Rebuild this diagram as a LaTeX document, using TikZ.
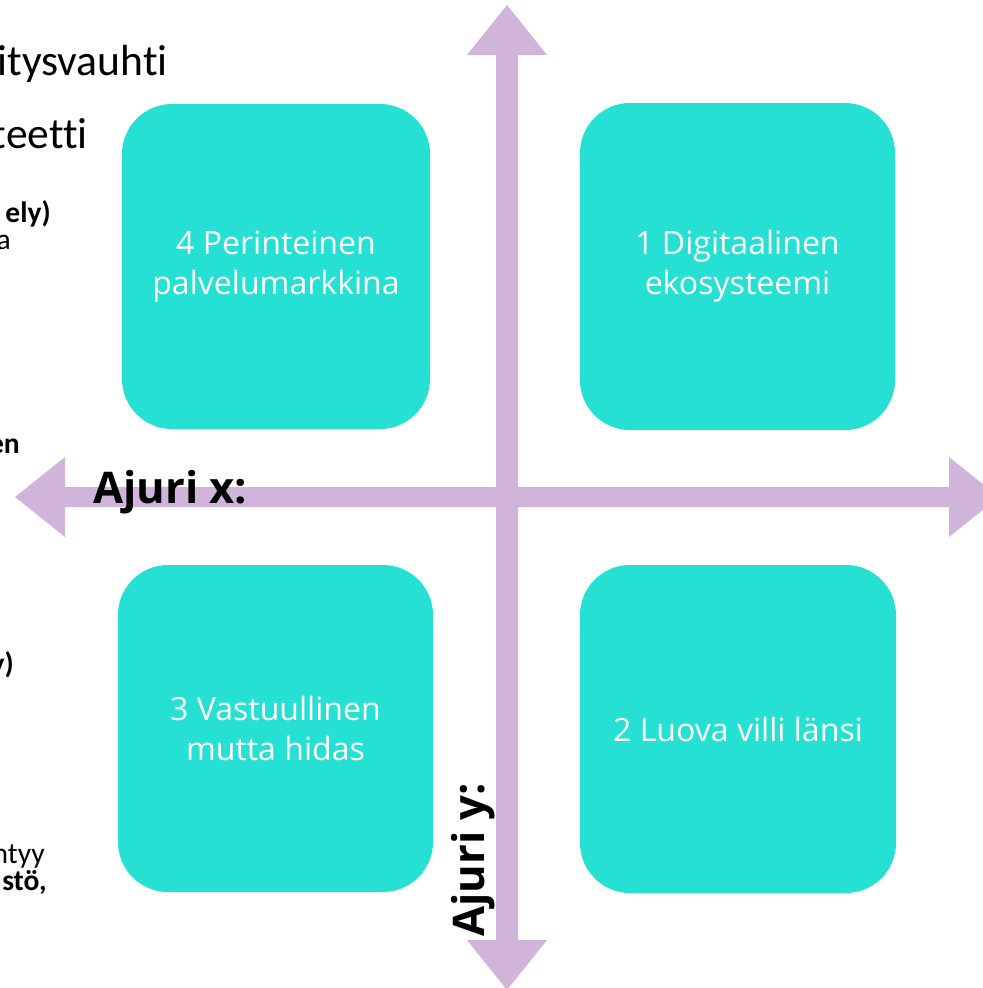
\documentclass[tikz,border=0pt]{standalone}
\usepackage{fontspec}
\setmainfont{Open Sans}
\newfontfamily\calfont[Ligatures=NoCommon]{Carlito}
\begin{document}
\begin{tikzpicture}[x=0.025cm, y=-0.025cm,
    quad/.style={fill={rgb,255:red,38;green,224;blue,212}, rounded corners=1.25cm},
    quadtext/.style={text=white, align=center, font=\fontsize{22.8}{28.5}\selectfont},
    axis/.style={fill={rgb,255:red,209;green,180;blue,218}},
    ajuri/.style={font=\fontsize{31}{36}\selectfont\bfseries, inner sep=0pt},
    frag/.style={font=\calfont\fontsize{21}{24}\selectfont, anchor=base east, inner sep=0pt},
    fragbig/.style={font=\calfont\fontsize{31}{36}\selectfont, anchor=base east, inner sep=0pt}]
    \useasboundingbox (0,0) rectangle (983,988);
    % cut-off text on the left edge
    \node[fragbig] (f1) at (168,75) {itysvauhti};
    \node[fragbig] (f2) at (88,148) {teetti};
    \node[frag] (f3) at (51,222) {\bfseries ely)};
    \node[frag] (f4) at (11,249) {a};
    \node[frag] (f5) at (20,453) {\bfseries en};
    \node[frag] (f6) at (14,673) {\bfseries y)};
    \node[frag] (f7) at (45,863) {ntyy};
    \node[frag] (f8) at (47,890) {\bfseries stö,};
    % axes
    \path[axis] (15,497) -- (65,457) -- (65,487) -- (949,487) -- (949,457) -- (999,497) -- (949,537) -- (949,507) -- (65,507) -- (65,537) -- cycle;
    \path[axis] (507,5) -- (547,55) -- (518,55) -- (518,940) -- (547,940) -- (507,990) -- (467,940) -- (496,940) -- (496,55) -- (467,55) -- cycle;
    % quadrants
    \path[quad] (122,104) rectangle node[quadtext] (q4) {4 Perinteinen\\palvelumarkkina} (430,429);
    \path[quad] (580,103) rectangle node[quadtext] (q1) {1 Digitaalinen\\ekosysteemi} (895,430);
    \path[quad] (118,565) rectangle node[quadtext] (q3) {3 Vastuullinen\\mutta hidas} (433,892);
    \path[quad] (580,565) rectangle node[quadtext] (q2) {2 Luova villi länsi} (896,893);
    \node[ajuri, anchor=base west] (ax) at (93,503) {Ajuri x:};
    \node[ajuri, anchor=base west, rotate=90] (ay) at (484,937) {Ajuri y:};
\end{tikzpicture}
\end{document}
